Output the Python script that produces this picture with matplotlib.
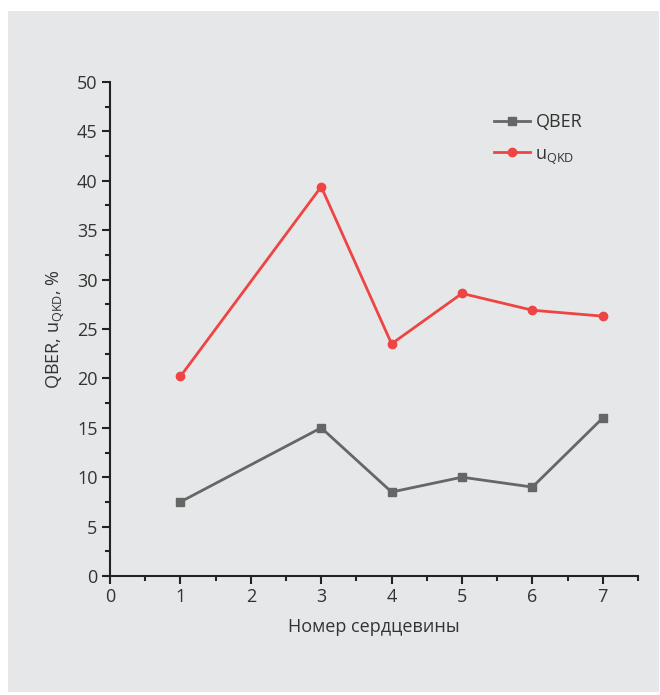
import matplotlib.pyplot as plt
from matplotlib.patches import Rectangle
from matplotlib.ticker import MultipleLocator

plt.rcParams['font.family'] = ['Open Sans', 'DejaVu Sans']

# Data
cores = [1, 3, 4, 5, 6, 7]
qber = [7.5, 15.0, 8.5, 10.0, 9.0, 16.0]
u_qkd = [20.2, 39.4, 23.5, 28.6, 26.9, 26.3]

text_color = '#333333'
bg = '#e6e7e8'

fig = plt.figure(figsize=(6.6, 6.95), dpi=100)
fig.patch.set_facecolor('white')
fig.patches.append(Rectangle((8 / 660, 1 - 692 / 695), 651 / 660, 681 / 695,
                             transform=fig.transFigure, facecolor=bg,
                             edgecolor='none', zorder=-10))

ax = fig.add_axes([110 / 660, 1 - 576 / 695, 528 / 660, 494 / 695])
ax.set_facecolor('none')
ax.set_zorder(5)

ax.plot(cores, qber, color='#666666', lw=2, marker='s', ms=6, label='QBER')
ax.plot(cores, u_qkd, color='#ef4444', lw=2, marker='o', ms=6,
        label='u$_{\\mathregular{QKD}}$')

ax.set_xlim(0, 7.5)
ax.set_ylim(0, 50)
ax.xaxis.set_major_locator(MultipleLocator(1))
ax.xaxis.set_minor_locator(MultipleLocator(0.5))
ax.yaxis.set_major_locator(MultipleLocator(5))
ax.yaxis.set_minor_locator(MultipleLocator(2.5))

for s in ['top', 'right']:
    ax.spines[s].set_visible(False)
for s in ['left', 'bottom']:
    ax.spines[s].set_linewidth(1.5)
    ax.spines[s].set_color('#222222')

ax.tick_params(which='major', direction='out', length=6, width=1.5,
               color='#222222', labelsize=13, labelcolor=text_color, pad=3)
ax.tick_params(which='minor', direction='out', length=3.5, width=1.5,
               color='#222222')

ax.set_xlabel('Номер сердцевины', fontsize=13, color=text_color, labelpad=8)
ax.set_ylabel('QBER, u$_{\\mathregular{QKD}}$, %', fontsize=13,
              color=text_color, labelpad=8)

leg = ax.legend(loc='upper right', bbox_to_anchor=(0.925, 0.97), frameon=False,
                fontsize=13, handlelength=2.0, labelspacing=0.75,
                handletextpad=0.3)
for t in leg.get_texts():
    t.set_color(text_color)

fig.savefig('out.png', dpi=100, facecolor='white')
